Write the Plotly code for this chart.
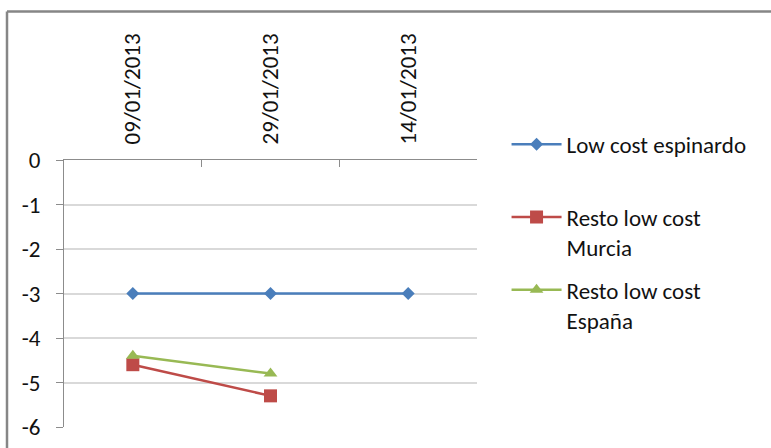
import plotly.graph_objects as go

# Categories (dates, in the order they are plotted)
dates = ["09/01/2013", "29/01/2013", "14/01/2013"]

# Series values
espinardo = [-3, -3, -3]
resto_murcia = [-4.6, -5.3, None]
resto_espana = [-4.4, -4.8, None]

# Y axis ticks
y_tick_values = [0, -1, -2, -3, -4, -5, -6]
y_tick_labels = ["0", "-1", "-2", "-3", "-4", "-5", "-6"]

FONT = "Calibri, Carlito, Lato, sans-serif"
TEXT_COLOR = "#111111"
AXIS_COLOR = "#8c8c8c"
GRID_COLOR = "#d9d9d9"
FS = 23

fig = go.Figure()

fig.add_trace(go.Scatter(
    x=dates, y=espinardo, name="Low cost espinardo<br>&nbsp;",
    mode="lines+markers", legendgroup="a",
    line=dict(color="#4a7ebb", width=2.5),
    marker=dict(symbol="diamond", size=10, color="#4a7ebb"),
))
fig.add_trace(go.Scatter(
    x=dates, y=resto_murcia, name="Resto low cost<br>Murcia",
    mode="lines+markers", legendgroup="b",
    line=dict(color="#be4b48", width=2.5),
    marker=dict(symbol="square", size=13, color="#be4b48"),
))
fig.add_trace(go.Scatter(
    x=dates, y=resto_espana, name="Resto low cost<br>España",
    mode="lines+markers", legendgroup="c",
    line=dict(color="#98b954", width=2.5),
    marker=dict(symbol="triangle-up", size=12, color="#98b954"),
))

fig.update_layout(
    width=771, height=448,
    margin=dict(l=64, r=294, t=160, b=21, autoexpand=False),
    paper_bgcolor="white", plot_bgcolor="white",
    font=dict(family=FONT, size=FS, color=TEXT_COLOR),
    showlegend=True,
    legend=dict(
        xref="container", yref="container",
        x=0.657, y=0.726, xanchor="left", yanchor="top",
        valign="top", tracegroupgap=10,
        itemwidth=50,
        font=dict(family=FONT, size=FS, color=TEXT_COLOR),
        bgcolor="rgba(0,0,0,0)",
    ),
    xaxis=dict(
        type="category", side="top", range=[-0.5, 2.5],
        showline=True, linecolor=AXIS_COLOR, linewidth=1,
        ticks="inside", ticklen=7, tickcolor=AXIS_COLOR,
        tickson="boundaries", showgrid=False, zeroline=False,
        tickangle=-90, ticklabelstandoff=10, automargin=False,
        tickfont=dict(family=FONT, size=FS, color=TEXT_COLOR),
    ),
    yaxis=dict(
        range=[-6, 0], tickvals=y_tick_values, ticktext=y_tick_labels,
        showline=True, linecolor=AXIS_COLOR, linewidth=1,
        ticks="outside", ticklen=7, tickcolor=AXIS_COLOR,
        showgrid=True, gridcolor=GRID_COLOR, gridwidth=1.5, zeroline=False,
        ticklabelstandoff=11, automargin=False,
        tickfont=dict(family=FONT, size=FS, color=TEXT_COLOR),
    ),
    shapes=[
        # chart-area frame (left and top edges)
        dict(type="line", xref="paper", yref="paper",
             x0=(7 - 64) / 413, x1=(7 - 64) / 413,
             y0=(427 - 13) / 266, y1=-0.2,
             line=dict(color="#868686", width=2.5)),
        dict(type="line", xref="paper", yref="paper",
             x0=(7 - 64) / 413, x1=1.8,
             y0=(427 - 13) / 266, y1=(427 - 13) / 266,
             line=dict(color="#868686", width=2.5)),
    ],
)

fig.write_html("out.html")
